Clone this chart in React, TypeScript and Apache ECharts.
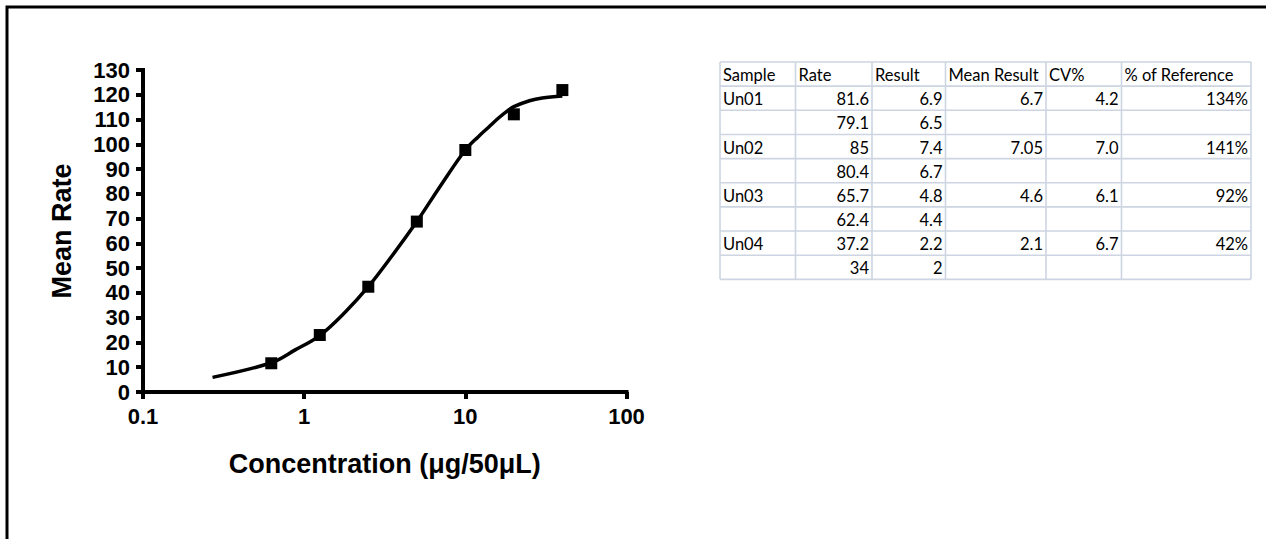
import React, { useEffect, useRef } from "react";
import * as echarts from "echarts";

// ---- data ----
const concentrations = [0.625, 1.25, 2.5, 5, 10, 20, 40];
const meanRates = [11.6, 23.0, 42.5, 68.8, 97.7, 112.1, 121.9];

const curveX = [0.27, 0.625, 0.88, 1.25, 1.77, 2.5, 3.54, 5, 7.07, 10, 12, 14, 16, 18, 20, 25, 30, 40];
const curveY = [5.9, 11.8, 17.0, 22.8, 31.8, 42.5, 55.3, 68.8, 83.6, 97.7, 103, 107, 110.5, 113.2, 115.2, 117.6, 118.7, 119.5];

const xTickLabels = ["0.1", "1", "10", "100"];

const tableHeaders = ["Sample", "Rate", "Result", "Mean Result", "CV%", "% of Reference"];
const sampleNames = ["Un01", "Un02", "Un03", "Un04"];
const rates = ["81.6", "79.1", "85", "80.4", "65.7", "62.4", "37.2", "34"];
const results = ["6.9", "6.5", "7.4", "6.7", "4.8", "4.4", "2.2", "2"];
const meanResults = ["6.7", "7.05", "4.6", "2.1"];
const cvs = ["4.2", "7.0", "6.1", "6.7"];
const pctReference = ["134%", "141%", "92%", "42%"];

// ---- layout ----
const W = 1266;
const H = 539;
const colEdges = [720, 795.5, 872, 945.5, 1046, 1121.5, 1251];
const tableTop = 62;
const rowH = 24.15;
const tableFont = "Lato, 'Open Sans', sans-serif";
const gridColor = "#cdd5e2";

function buildTable(): any[] {
  const els: any[] = [];
  const rows: string[][] = [tableHeaders];
  for (let i = 0; i < rates.length; i++) {
    const s = Math.floor(i / 2);
    const first = i % 2 === 0;
    rows.push([
      first ? sampleNames[s] : "",
      rates[i],
      results[i],
      first ? meanResults[s] : "",
      first ? cvs[s] : "",
      first ? pctReference[s] : "",
    ]);
  }
  const nRows = rows.length;
  const left = colEdges[0];
  const right = colEdges[colEdges.length - 1];
  const bottom = tableTop + nRows * rowH;
  for (let r = 0; r <= nRows; r++) {
    const y = tableTop + r * rowH;
    els.push({
      type: "line",
      shape: { x1: left, y1: y, x2: right, y2: y },
      style: { stroke: gridColor, lineWidth: 1.6 },
    });
  }
  for (const x of colEdges) {
    els.push({
      type: "line",
      shape: { x1: x, y1: tableTop, x2: x, y2: bottom },
      style: { stroke: gridColor, lineWidth: 1.6 },
    });
  }
  rows.forEach((row, r) => {
    row.forEach((txt, c) => {
      if (!txt) return;
      const leftAlign = r === 0 || c === 0;
      const x = leftAlign ? colEdges[c] + 3 : colEdges[c + 1] - 3;
      els.push({
        type: "text",
        x,
        y: tableTop + r * rowH + rowH / 2 + 1,
        style: {
          text: txt,
          fill: "#000",
          font: `16.5px ${tableFont}`,
          align: leftAlign ? "left" : "right",
          verticalAlign: "middle",
        },
      });
    });
  });
  return els;
}

export default function App() {
  const ref = useRef<HTMLDivElement>(null);
  useEffect(() => {
    if (!ref.current) return;
    const chart = echarts.init(ref.current, undefined, { renderer: "svg" });
    const axisFont = "'Liberation Sans', Arial, sans-serif";
    const option: any = {
      animation: false,
      backgroundColor: "#fff",
      grid: { left: 143, right: W - 626.5, top: 70, bottom: H - 392, containLabel: false },
      xAxis: {
        type: "log",
        logBase: 10,
        min: 0.1,
        max: 100,
        name: "Concentration (\u03bcg/50\u03bcL)",
        nameLocation: "middle",
        nameGap: 58,
        nameTextStyle: { fontFamily: axisFont, fontWeight: "bold", fontSize: 27, color: "#000" },
        axisLine: { lineStyle: { color: "#000", width: 4, cap: "square" } },
        axisTick: { show: true, length: 7, lineStyle: { color: "#000", width: 4 } },
        minorTick: { show: false },
        splitLine: { show: false },
        axisLabel: {
          margin: 13,
          fontFamily: axisFont,
          fontWeight: "bold",
          fontSize: 22,
          color: "#000",
          formatter: (v: number) => {
            const idx = Math.round(Math.log10(v)) + 1;
            return xTickLabels[idx] ?? String(v);
          },
        },
      },
      yAxis: {
        type: "value",
        min: 0,
        max: 130,
        interval: 10,
        name: "Mean Rate",
        nameLocation: "middle",
        nameRotate: 90,
        nameGap: 68,
        nameTextStyle: { fontFamily: axisFont, fontWeight: "bold", fontSize: 27, color: "#000" },
        axisLine: { show: true, lineStyle: { color: "#000", width: 4, cap: "square" } },
        axisTick: { show: true, length: 7, lineStyle: { color: "#000", width: 4 } },
        splitLine: { show: false },
        axisLabel: {
          margin: 13,
          fontFamily: axisFont,
          fontWeight: "bold",
          fontSize: 22,
          color: "#000",
        },
      },
      series: [
        {
          type: "line",
          data: curveX.map((x, i) => [x, curveY[i]]),
          showSymbol: false,
          smooth: 0.35,
          lineStyle: { color: "#000", width: 3.5 },
          z: 2,
        },
        {
          type: "scatter",
          data: concentrations.map((x, i) => [x, meanRates[i]]),
          symbol: "rect",
          symbolSize: 12,
          itemStyle: { color: "#000", opacity: 1 },
          z: 3,
        },
      ],
      graphic: [
        {
          type: "rect",
          shape: { x: 7, y: 7, width: 1400, height: 700 },
          style: { fill: "none", stroke: "#000", lineWidth: 3 },
          silent: true,
        },
        ...buildTable(),
      ],
    };
    chart.setOption(option);
    return () => chart.dispose();
  }, []);
  return (
    <div
      ref={ref}
      style={{ position: "fixed", left: 0, top: 0, width: W, height: H, background: "#fff" }}
    />
  );
}
